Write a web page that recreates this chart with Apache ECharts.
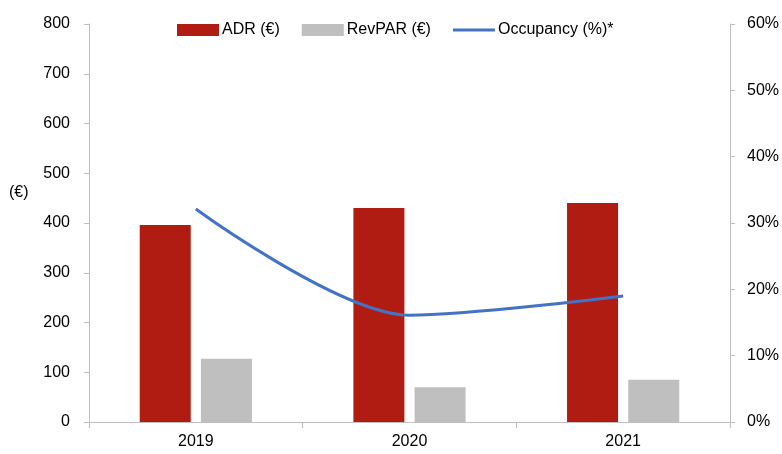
<!DOCTYPE html>
<html>
<head>
    <meta charset="utf-8" />
    <title>ADR, RevPAR and Occupancy</title>
    <script type="text/javascript" src="https://cdn.jsdelivr.net/npm/echarts@6/dist/echarts.min.js"></script>
    <style>
        html, body { margin: 0; padding: 0; background: #fff; }
    </style>
</head>
<body>
<div id="main" style="width: 782px;height:454px;"></div>
<script type="text/javascript">
    // data
    var years = ['2019', '2020', '2021'];
    var adr = [396, 430, 440];          // €
    var revpar = [127, 70, 85];         // €
    var occupancy = [32.1, 16.1, 19.0]; // %
    var leftTicks = [0, 800, 100];
    var rightTicks = [0, 60, 10];

    var font = 'Liberation Sans';
    var axisGrey = '#BFBFBF';

    var myChart = echarts.init(document.getElementById('main'));
    var option = {
        animation: false,
        textStyle: { fontFamily: font, color: '#000' },
        legend: {
            top: 22,
            left: 177,
            padding: 0,
            itemWidth: 42,
            itemHeight: 12,
            itemGap: 22,
            textStyle: { fontFamily: font, fontSize: 16, color: '#000', padding: [0, 0, 0, -2] },
            data: [
                { name: 'ADR (€)', icon: 'rect' },
                { name: 'RevPAR (€)', icon: 'rect' },
                { name: 'Occupancy (%)*', icon: 'path://M0,0 L42,0 L42,3 L0,3 Z' }
            ]
        },
        // axis title "(€)" sits above the middle of the left axis
        graphic: [
            {
                type: 'text',
                left: 9,
                top: 185,
                style: { text: '(€)', fontFamily: font, fontSize: 16, fill: '#000' }
            }
        ],
        grid: {
            left: 89,
            right: 51,
            top: 24,
            bottom: 32
        },
        xAxis: [
            {
                type: 'category',
                data: years,
                axisLine: { lineStyle: { color: axisGrey, width: 1 } },
                axisTick: { show: true, length: 6, lineStyle: { color: axisGrey } },
                axisLabel: { fontSize: 16, color: '#000', margin: 12 }
            }
        ],
        yAxis: [
            {
                type: 'value',
                min: leftTicks[0],
                max: leftTicks[1],
                interval: leftTicks[2],
                axisLine: { show: true, lineStyle: { color: axisGrey } },
                axisTick: { show: true, length: 5, lineStyle: { color: axisGrey } },
                axisLabel: { fontSize: 16, color: '#000', margin: 19 },
                splitLine: { show: false }
            },
            {
                type: 'value',
                min: rightTicks[0],
                max: rightTicks[1],
                interval: rightTicks[2],
                position: 'right',
                axisLine: { show: true, lineStyle: { color: axisGrey } },
                axisTick: { show: true, length: 5, lineStyle: { color: axisGrey } },
                axisLabel: { fontSize: 16, color: '#000', margin: 17, formatter: '{value}%' },
                splitLine: { show: false }
            }
        ],
        series: [
            {
                name: 'ADR (€)',
                type: 'bar',
                barWidth: 51,
                barGap: '20%',
                itemStyle: { color: '#B01C11' },
                data: adr
            },
            {
                name: 'RevPAR (€)',
                type: 'bar',
                barWidth: 51,
                itemStyle: { color: '#BFBFBF' },
                data: revpar
            },
            {
                name: 'Occupancy (%)*',
                type: 'line',
                yAxisIndex: 1,
                smooth: 0.3,
                symbol: 'none',
                lineStyle: { color: '#4472C4', width: 3 },
                itemStyle: { color: '#4472C4' },
                data: occupancy
            }
        ]
    };
    myChart.setOption(option);
</script>
</body>
</html>
